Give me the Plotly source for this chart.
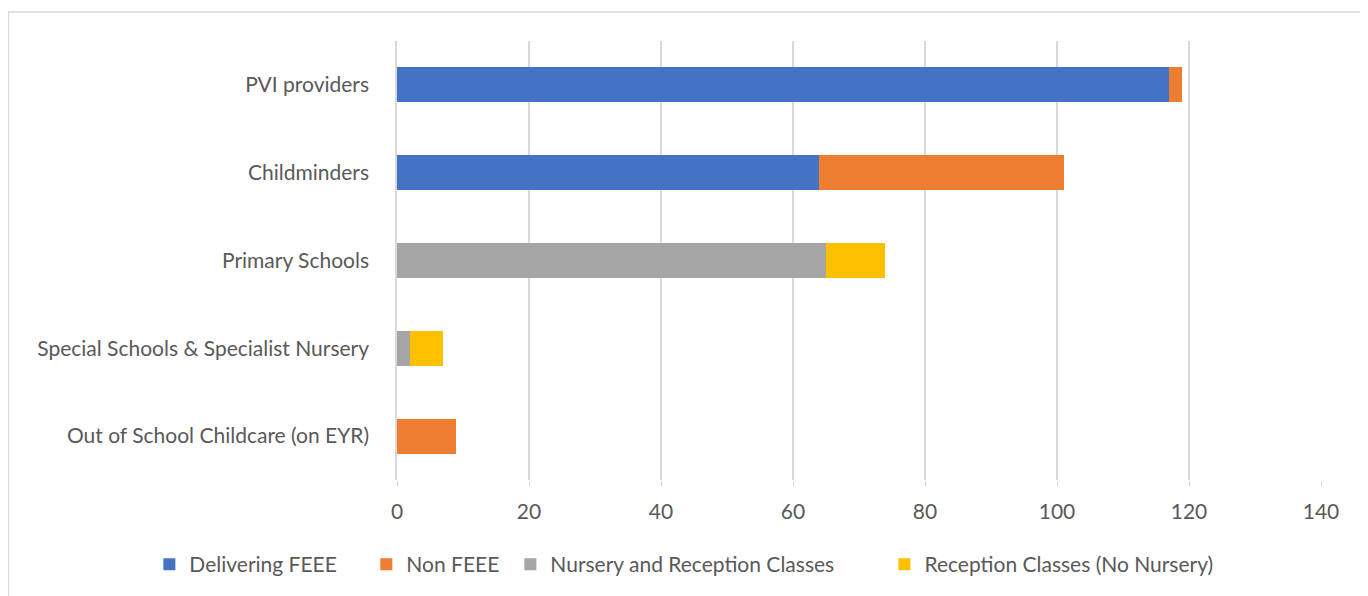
import plotly.graph_objects as go

categories = [
    "PVI providers",
    "Childminders",
    "Primary Schools",
    "Special Schools & Specialist Nursery",
    "Out of School Childcare (on EYR)",
]
delivering_feee = [117, 64, None, None, None]
non_feee = [2, 37, None, None, 9]
nursery_reception = [None, None, 65, 2, None]
reception_no_nursery = [None, None, 9, 5, None]
x_ticks = [0, 20, 40, 60, 80, 100, 120, 140]

series = [
    ("Delivering FEEE", delivering_feee, "#4472C4"),
    ("Non FEEE", non_feee, "#ED7D31"),
    ("Nursery and Reception Classes", nursery_reception, "#A5A5A5"),
    ("Reception Classes (No Nursery)", reception_no_nursery, "#FFC000"),
]
# one legend per entry so the spacing can follow the original layout
legend_x = [-0.268, -0.0332, 0.1227, 0.5275]

fig = go.Figure()
legends = {}
for i, (name, vals, color) in enumerate(series):
    key = f"legend{i + 2}"
    fig.add_bar(name=name, y=categories, x=vals, orientation="h", legend=key,
                showlegend=True, marker=dict(color=color, line=dict(width=0)))
    legends[key] = dict(orientation="h", x=legend_x[i], xanchor="left", y=-0.19,
                        yanchor="middle", font=dict(size=21), itemwidth=30,
                        bgcolor="rgba(0,0,0,0)")

fig.update_layout(
    barmode="stack", bargap=0.6,
    width=1360, height=588,
    margin=dict(l=389, r=47, t=33, b=115),
    paper_bgcolor="white", plot_bgcolor="white",
    font=dict(family="Lato, Open Sans, sans-serif", size=21, color="#595959"),
    shapes=[dict(type="rect", xref="paper", yref="paper",
                 x0=-0.4205, x1=1.0455, y0=-0.27, y1=1.066,
                 line=dict(color="#D9D9D9", width=1.5), fillcolor="rgba(0,0,0,0)",
                 layer="below")],
    **legends,
)
fig.update_xaxes(range=[0, 140], tickvals=x_ticks, showgrid=True, gridcolor="#D9D9D9",
                 gridwidth=1.5, zeroline=False, ticks="outside", ticklen=5,
                 tickcolor="#D9D9D9", showline=False, ticklabelstandoff=8)
fig.update_yaxes(autorange="reversed", showgrid=False, ticks="", ticklabelstandoff=22,
                 showline=True, linecolor="#D9D9D9", linewidth=1.5)

fig.write_html("out.html")
